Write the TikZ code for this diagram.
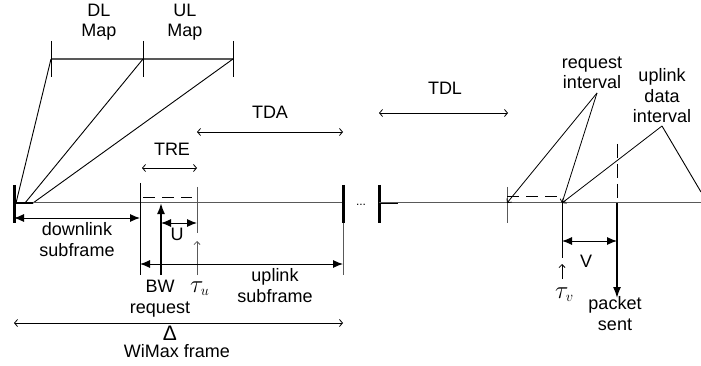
\documentclass[tikz,border=0pt]{standalone}
\usepackage{fontspec}
\setmainfont{Liberation Sans}
\usetikzlibrary{arrows.meta}
\begin{document}
\begin{tikzpicture}[x=1pt,y=-1pt,
  every node/.style={font=\fontsize{18}{20.7}\selectfont, inner sep=0pt},
  lbl/.style={anchor=base, align=center},
  ln/.style={line width=0.9pt, black},
  gln/.style={line width=1pt, black!65},
  bar/.style={line width=3pt, black},
  fat/.style={{Latex[length=10pt,width=8pt]}-{Latex[length=10pt,width=8pt]}, line width=1pt},
  onefat/.style={-{Latex[length=11pt,width=8pt]}, line width=1.8pt},
  openarr/.style={{Straight Barb[length=3pt,width=7pt]}-{Straight Barb[length=3pt,width=7pt]}, line width=0.8pt},
  smallarr/.style={-{Straight Barb[length=3pt,width=6pt]}, line width=0.8pt},
  dsh/.style={dash pattern=on 12pt off 7pt, line width=1pt},
  taulbl/.style={anchor=base west, font=\fontsize{31}{31}\selectfont}
]
\useasboundingbox (0,0) rectangle (701,366);

% ---- coordinates ----
\coordinate (m1) at (51,59);  \coordinate (m2) at (143,59);  \coordinate (m3) at (233,59);
\coordinate (m1t) at (51,41); \coordinate (m1b) at (51,77);
\coordinate (m2t) at (143,41);\coordinate (m2b) at (143,77);
\coordinate (m3t) at (233,41);\coordinate (m3b) at (233,77);
\coordinate (f1) at (16,203); \coordinate (f2) at (25,203); \coordinate (f3) at (33,203);

\coordinate (L0) at (14,203); \coordinate (L0t) at (14,185); \coordinate (L0b) at (14,223);
\coordinate (R0) at (343,203); \coordinate (R0t) at (343,185); \coordinate (R0b) at (343,223);
\coordinate (R0e) at (343,275);
\coordinate (L1) at (379,203); \coordinate (L1t) at (379,185); \coordinate (L1b) at (379,223);
\coordinate (L1s) at (398,203); \coordinate (Rend) at (701,203);

\coordinate (ul0t) at (140,183); \coordinate (ul0b) at (140,275);
\coordinate (ds1) at (143,198); \coordinate (ds2) at (192,198);
\coordinate (tu0) at (197,187); \coordinate (tu1) at (197,233);
\coordinate (tua) at (197,275); \coordinate (tub) at (197,241);
\coordinate (bw0) at (161,275); \coordinate (bw1) at (161,203);
\coordinate (u0) at (161,223); \coordinate (u1) at (197,223);
\coordinate (dl0) at (14,218); \coordinate (dl1) at (140,218);
\coordinate (up0) at (140,264); \coordinate (up1) at (343,264);
\coordinate (tre0) at (142,168); \coordinate (tre1) at (197,168);
\coordinate (tda0) at (197,132); \coordinate (tda1) at (343,132);
\coordinate (de0) at (14,323); \coordinate (de1) at (343,323);
\coordinate (tdl0) at (379,113); \coordinate (tdl1) at (508,113);

\coordinate (rk) at (507,203); \coordinate (rkt) at (507,187); \coordinate (rkb) at (507,223);
\coordinate (rd1) at (507,197); \coordinate (rd2) at (562,197);
\coordinate (tv) at (562,203); \coordinate (tvb) at (562,258);
\coordinate (tva) at (562,279); \coordinate (tvt) at (562,264);
\coordinate (v0) at (562,241); \coordinate (v1) at (617,241);
\coordinate (ps0) at (617,144); \coordinate (ps1) at (617,203); \coordinate (ps2) at (617,298);
\coordinate (ra) at (597,93); \coordinate (ua) at (662,126); \coordinate (ue) at (701,192);

% ---- map bar ----
\draw[gln, line width=1.4pt] (m1) -- (m3);
\draw[ln] (m1t) -- (m1b) (m2t) -- (m2b) (m3t) -- (m3b);
\draw[ln] (m1) -- (f1) (m2) -- (f2) (m3) -- (f3);
\node[lbl] (dlmap) at (99,37) {DL\\Map};
\node[lbl] (ulmap) at (185,37) {UL\\Map};

% ---- first frame ----
\draw[gln] (L0) -- (R0);
\draw[line width=2pt] (L0) -- (f3);
\draw[bar] (L0t) -- (L0b);
\draw[bar] (R0t) -- (R0b);
\draw[gln] (R0b) -- (R0e);
\node[anchor=base, font=\fontsize{12}{12}\selectfont] (dots) at (361,205) {...};
\draw[bar] (L1t) -- (L1b);
\draw[line width=2.2pt] (L1) -- (L1s);
\draw[gln] (L1) -- (Rend);

\draw[ln] (ul0t) -- (ul0b);
\draw[dsh] (ds1) -- (ds2);
\draw[gln] (tu0) -- (tu1);
\draw[smallarr, black!65] (tua) -- (tub);
\draw[onefat] (bw0) -- (bw1);
\draw[fat] (u0) -- (u1);
\draw[fat] (dl0) -- (dl1);
\draw[fat] (up0) -- (up1);
\draw[openarr] (tre0) -- (tre1);
\draw[openarr] (tda0) -- (tda1);
\draw[openarr] (de0) -- (de1);
\draw[openarr] (tdl0) -- (tdl1);

\node[lbl] (tre) at (172,156) {TRE};
\node[lbl] (tda) at (270,119) {TDA};
\node[lbl] (tdl) at (445,95) {TDL};
\node[lbl] (dls) at (77,256) {downlink\\subframe};
\node[lbl] (uls) at (275,302) {uplink\\subframe};
\node[lbl] (bwr) at (160,313) {BW\\request};
\node[taulbl] (tauu) at (190,292) {$\tau_{\scriptscriptstyle u}$};
\node[lbl] (ulab) at (177,240) {U};
\node[lbl, font=\fontsize{21}{21}\selectfont] (delta) at (170,340) {Δ};
\node[lbl] (wimax) at (177,357) {WiMax frame};

% ---- second frame ----
\draw[gln] (rkt) -- (rkb);
\draw[dsh] (rd1) -- (rd2);
\draw[ln] (tv) -- (tvb);
\draw[smallarr] (tva) -- (tvt);
\draw[fat] (v0) -- (v1);
\draw[ln, dash pattern=on 14pt off 6pt] (ps0) -- (ps1);
\draw[onefat, line width=1.5pt] (ps1) -- (ps2);
\draw[ln, smallarr] (ra) -- (rk);
\draw[ln, smallarr] (ra) -- (tv);
\draw[ln, smallarr] (ua) -- (tv);
\draw[ln] (ua) -- (ue);

\node[lbl] (reqi) at (592,89) {request\\interval};
\node[lbl] (upi) at (662,123) {uplink\\data\\interval};
\node[lbl] (vlab) at (586,267) {V};
\node[taulbl] (tauv) at (555,298) {$\tau_{\scriptscriptstyle v}$};
\node[lbl] (pks) at (615,330) {packet\\sent};
\end{tikzpicture}
\end{document}
